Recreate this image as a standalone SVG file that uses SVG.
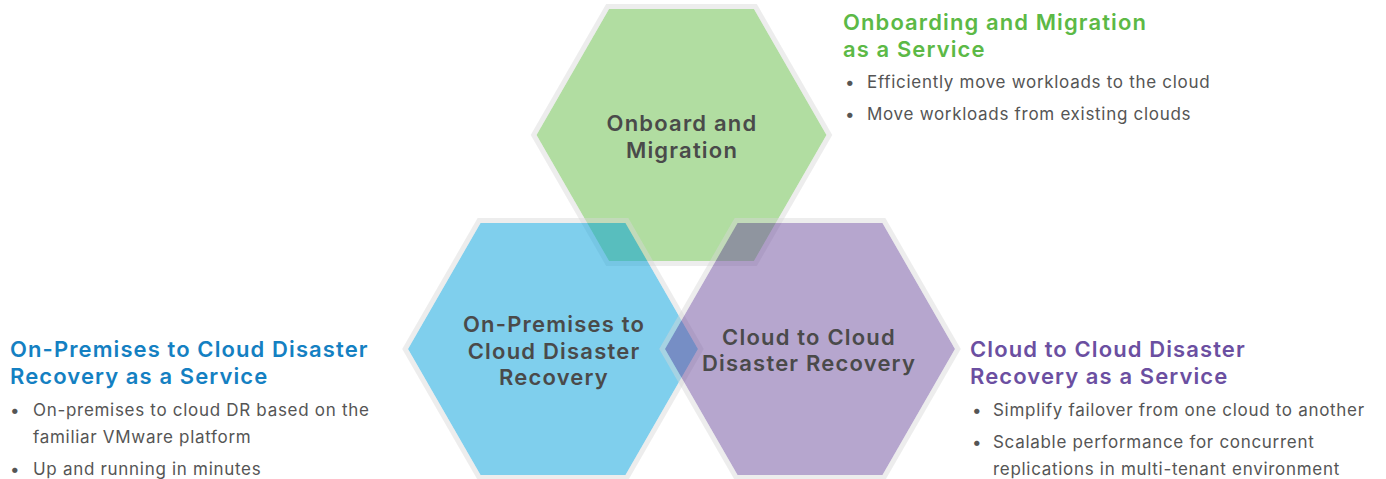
<svg xmlns="http://www.w3.org/2000/svg" width="1386" height="479" viewBox="0 0 1386 479">
<style>
.hex{stroke:none}
.rim{fill:none;stroke:#d6d6d6;stroke-opacity:0.45;stroke-width:5;stroke-linejoin:miter}
.g{fill:#63bb43;fill-opacity:0.5}
.b{fill:#00a0dc;fill-opacity:0.5}
.p{fill:#6d4d9d;fill-opacity:0.5}
.lbl{font-family:Inter,"Liberation Sans",sans-serif;font-size:22px;font-weight:600;letter-spacing:1.2px;fill:#4a4a4a;text-anchor:middle}
.hd{font-family:Inter,"Liberation Sans",sans-serif;font-size:22px;font-weight:600;letter-spacing:1.1px}
.bl{font-family:Inter,"Liberation Sans",sans-serif;font-size:17px;letter-spacing:0.7px;fill:#555555}
</style>
<rect width="1386" height="479" fill="#ffffff"/>
<g id="node-onboard">
<polygon class="hex g" points="536.5,135 609,9 754,9 826.5,135 754,261 609,261"/>
<polygon class="rim" points="533.6,135 607.6,6.5 755.4,6.5 829.4,135 755.4,263.5 607.6,263.5"/>
<text class="lbl" x="682" y="131">Onboard and</text>
<text class="lbl" x="682" y="158">Migration</text>
</g>
<g id="node-onprem">
<polygon class="hex b" points="408,349 480.5,223 625.5,223 698,349 625.5,475 480.5,475"/>
<polygon class="rim" points="405.1,349 479.1,220.5 626.9,220.5 700.9,349 626.9,477.5 479.1,477.5"/>
<text class="lbl" x="554" y="332">On-Premises to</text>
<text class="lbl" x="554" y="359">Cloud Disaster</text>
<text class="lbl" x="554" y="385">Recovery</text>
</g>
<g id="node-c2c">
<polygon class="hex p" points="665,349 737.5,223 882.5,223 955,349 882.5,475 737.5,475"/>
<polygon class="rim" points="662.1,349 736.1,220.5 883.9,220.5 957.9,349 883.9,477.5 736.1,477.5"/>
<text class="lbl" x="809" y="345">Cloud to Cloud</text>
<text class="lbl" x="809" y="371">Disaster Recovery</text>
</g>
<g id="desc-onboard">
<text class="hd" x="843" y="30" fill="#5cb946">Onboarding and Migration</text>
<text class="hd" x="843" y="57" fill="#5cb946">as a Service</text>
<text class="bl" x="845" y="88">•</text>
<text class="bl" x="867" y="88">Efficiently move workloads to the cloud</text>
<text class="bl" x="845" y="120">•</text>
<text class="bl" x="867" y="120">Move workloads from existing clouds</text>
</g>
<g id="desc-onprem">
<text class="hd" x="10" y="357" fill="#1480c2">On-Premises to Cloud Disaster</text>
<text class="hd" x="10" y="384" fill="#1480c2">Recovery as a Service</text>
<text class="bl" x="10" y="416">•</text>
<text class="bl" x="33" y="416">On-premises to cloud DR based on the</text>
<text class="bl" x="33" y="443">familiar VMware platform</text>
<text class="bl" x="10" y="475">•</text>
<text class="bl" x="33" y="475">Up and running in minutes</text>
</g>
<g id="desc-c2c">
<text class="hd" x="970" y="357" fill="#6b4fa1">Cloud to Cloud Disaster</text>
<text class="hd" x="970" y="384" fill="#6b4fa1">Recovery as a Service</text>
<text class="bl" x="972" y="416">•</text>
<text class="bl" x="993" y="416">Simplify failover from one cloud to another</text>
<text class="bl" x="972" y="448">•</text>
<text class="bl" x="993" y="448">Scalable performance for concurrent</text>
<text class="bl" x="993" y="475">replications in multi-tenant environment</text>
</g>
<g id="connectors"></g>
</svg>
